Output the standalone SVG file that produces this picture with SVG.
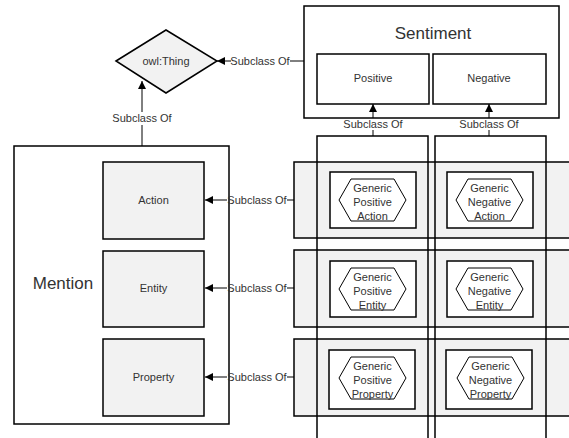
<svg xmlns="http://www.w3.org/2000/svg" width="569" height="438" viewBox="0 0 569 438">
<style>
text{font-family:"Liberation Sans",Arial,sans-serif;fill:#333;text-anchor:middle;dominant-baseline:central}
.lbl{font-size:11px}
.big{font-size:17px}
.box{fill:#fff;stroke:#000;stroke-width:1.5}
.gbox{fill:#f2f2f2;stroke:#000;stroke-width:1.5}
.col{fill:none;stroke:#000;stroke-width:1.5}
.hex{fill:#fff;stroke:#000;stroke-width:1}
.ln{fill:none;stroke:#000;stroke-width:1}
</style>
<defs>
<marker id="ah" viewBox="0 0 10 10" refX="10" refY="5" markerWidth="9" markerHeight="8" markerUnits="userSpaceOnUse" orient="auto">
<path d="M0,0L10,5L0,10z" fill="#000"/>
</marker>
</defs>
<rect width="569" height="438" fill="#fff"/>

<g id="mention">
<rect class="box" x="14" y="146" width="215" height="278"/>
<text class="big" x="63" y="283">Mention</text>
</g>
<g id="action"><rect class="gbox" x="103" y="162" width="101" height="77"/><text class="lbl" x="153.5" y="200">Action</text></g>
<g id="entity"><rect class="gbox" x="103" y="251" width="101" height="76"/><text class="lbl" x="153.5" y="288">Entity</text></g>
<g id="property"><rect class="gbox" x="103" y="339" width="101" height="77"/><text class="lbl" x="153.5" y="377">Property</text></g>

<g id="owlthing">
<polygon points="116,61 166,30 217,61 166,93" fill="#f2f2f2" stroke="#000" stroke-width="1.5"/>
<text class="lbl" x="166" y="61">owl:Thing</text>
</g>

<g id="sentiment">
<rect class="box" x="304" y="6" width="255" height="112"/>
<text class="big" x="433" y="33">Sentiment</text>
</g>
<g id="positive"><rect class="box" x="317" y="54" width="112" height="50"/><text class="lbl" x="373" y="78">Positive</text></g>
<g id="negative"><rect class="box" x="433" y="54" width="113" height="50"/><text class="lbl" x="489" y="78">Negative</text></g>

<g id="row-action"><rect class="gbox" x="294" y="162" width="280" height="76"/></g>
<g id="row-entity"><rect class="gbox" x="294" y="250" width="280" height="77"/></g>
<g id="row-property"><rect class="gbox" x="294" y="339" width="280" height="77"/></g>

<g id="col-positive"><rect class="col" x="317" y="136" width="111" height="310"/></g>
<g id="col-negative"><rect class="col" x="435" y="136" width="111" height="310"/></g>

<g id="gpa">
<rect class="box" x="330" y="172" width="86" height="56"/>
<polygon class="hex" points="339,200 351,179 394,179 406,200 394,221 351,221"/>
<text class="lbl" x="372.5" y="188">Generic</text><text class="lbl" x="372.5" y="202">Positive</text><text class="lbl" x="372.5" y="216">Action</text>
</g>
<g id="gna">
<rect class="box" x="447" y="172" width="86" height="56"/>
<polygon class="hex" points="456,200 468,179 511,179 523,200 511,221 468,221"/>
<text class="lbl" x="489.5" y="188">Generic</text><text class="lbl" x="489.5" y="202">Negative</text><text class="lbl" x="489.5" y="216">Action</text>
</g>
<g id="gpe">
<rect class="box" x="330" y="261" width="86" height="56"/>
<polygon class="hex" points="339,289 351,268 394,268 406,289 394,310 351,310"/>
<text class="lbl" x="372.5" y="277">Generic</text><text class="lbl" x="372.5" y="291">Positive</text><text class="lbl" x="372.5" y="305">Entity</text>
</g>
<g id="gne">
<rect class="box" x="447" y="261" width="86" height="56"/>
<polygon class="hex" points="456,289 468,268 511,268 523,289 511,310 468,310"/>
<text class="lbl" x="489.5" y="277">Generic</text><text class="lbl" x="489.5" y="291">Negative</text><text class="lbl" x="489.5" y="305">Entity</text>
</g>
<g id="gpp">
<rect class="box" x="329" y="350" width="86" height="59"/>
<polygon class="hex" points="339,378 351,357 394,357 406,378 394,399 351,399"/>
<text class="lbl" x="372.5" y="366">Generic</text><text class="lbl" x="372.5" y="380">Positive</text><text class="lbl" x="372.5" y="394">Property</text>
</g>
<g id="gnp">
<rect class="box" x="446" y="350" width="86" height="59"/>
<polygon class="hex" points="457,378 469,357 512,357 524,378 512,399 469,399"/>
<text class="lbl" x="490.5" y="366">Generic</text><text class="lbl" x="490.5" y="380">Negative</text><text class="lbl" x="490.5" y="394">Property</text>
</g>

<g id="connectors">
<path class="ln" d="M142,146V125M142,112V81" marker-end="url(#ah)"/>
<text class="lbl" x="142" y="118">Subclass Of</text>
<path class="ln" d="M304,61H290M231,61H217" marker-end="url(#ah)"/>
<text class="lbl" x="260" y="61">Subclass Of</text>
<path class="ln" d="M373,136V130M373,118V104" marker-end="url(#ah)"/>
<text class="lbl" x="373" y="124">Subclass Of</text>
<path class="ln" d="M489,136V130M489,118V104" marker-end="url(#ah)"/>
<text class="lbl" x="489" y="124">Subclass Of</text>
<path class="ln" d="M294,200H287M227,200H205" marker-end="url(#ah)"/>
<text class="lbl" x="257" y="200">Subclass Of</text>
<path class="ln" d="M294,288H287M227,288H205" marker-end="url(#ah)"/>
<text class="lbl" x="257" y="288">Subclass Of</text>
<path class="ln" d="M294,377H287M227,377H205" marker-end="url(#ah)"/>
<text class="lbl" x="257" y="377">Subclass Of</text>
</g>
</svg>
